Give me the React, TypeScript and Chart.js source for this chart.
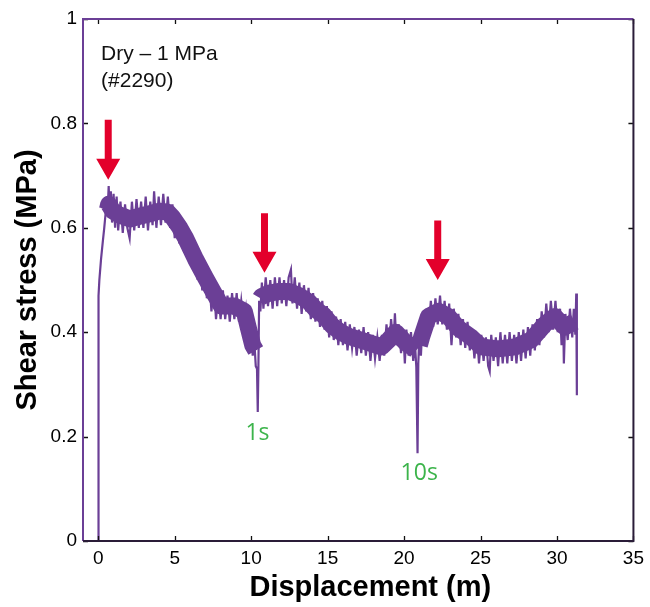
import React, { useEffect, useRef } from "react";
import { Chart, registerables } from "chart.js";
Chart.register(...registerables);

const xTicks = [0, 5, 10, 15, 20, 25, 30, 35];
const yTicks = [0, 0.2, 0.4, 0.6, 0.8, 1];

// thin noisy trace (displacement m, shear stress MPa)
const traceX = [0, 0, 0.03, 0.07, 0.18, 0.3, 0.39, 0.47, 0.55, 0.62, 0.68, 0.75, 0.82, 0.9, 1.0, 1.1, 1.2, 1.3, 1.45, 1.6, 1.75, 1.9, 2.05, 2.2, 2.35, 2.5, 2.65, 2.8, 2.95, 3.1, 3.25, 3.4, 3.55, 3.65, 3.8, 3.95, 4.1, 4.25, 4.4, 4.55, 4.7, 4.85, 5.0, 5.15, 5.3, 5.45, 5.6, 5.75, 5.9, 6.05, 6.2, 6.35, 6.5, 6.65, 6.8, 6.95, 7.1, 7.25, 7.4, 7.55, 7.7, 7.85, 8.0, 8.15, 8.3, 8.45, 8.6, 8.75, 8.9, 9.05, 9.2, 9.35, 9.5, 9.65, 9.8, 9.95, 10.1, 10.2, 10.3, 10.38, 10.43, 10.47, 10.52, 10.6, 10.7, 10.8, 10.95, 11.1, 11.25, 11.4, 11.55, 11.7, 11.85, 12.0, 12.15, 12.3, 12.45, 12.6, 12.7, 12.85, 13.0, 13.15, 13.3, 13.45, 13.6, 13.75, 13.9, 14.05, 14.2, 14.35, 14.5, 14.65, 14.8, 14.95, 15.1, 15.25, 15.4, 15.55, 15.7, 15.85, 16.0, 16.15, 16.3, 16.45, 16.6, 16.75, 16.9, 17.05, 17.2, 17.35, 17.5, 17.65, 17.8, 17.95, 18.1, 18.25, 18.4, 18.55, 18.7, 18.85, 19.0, 19.15, 19.3, 19.4, 19.5, 19.65, 19.8, 19.95, 20.05, 20.15, 20.3, 20.45, 20.6, 20.7, 20.8, 20.88, 20.93, 21.0, 21.1, 21.2, 21.3, 21.45, 21.6, 21.75, 21.9, 22.05, 22.2, 22.35, 22.5, 22.65, 22.8, 22.95, 23.1, 23.25, 23.4, 23.55, 23.7, 23.85, 24.0, 24.15, 24.3, 24.45, 24.6, 24.75, 24.9, 25.05, 25.2, 25.35, 25.5, 25.6, 25.7, 25.85, 26.0, 26.15, 26.3, 26.45, 26.6, 26.75, 26.9, 27.05, 27.2, 27.35, 27.5, 27.65, 27.8, 27.95, 28.1, 28.25, 28.4, 28.55, 28.7, 28.85, 29.0, 29.15, 29.3, 29.45, 29.6, 29.75, 29.9, 30.05, 30.2, 30.3, 30.4, 30.45, 30.55, 30.7, 30.85, 31.0, 31.1, 31.2, 31.26, 31.3];
const traceY = [0, 0.44, 0.47, 0.5, 0.54, 0.575, 0.6, 0.625, 0.66, 0.64, 0.68, 0.62, 0.67, 0.61, 0.665, 0.6, 0.66, 0.595, 0.65, 0.59, 0.645, 0.6, 0.58, 0.65, 0.595, 0.655, 0.6, 0.65, 0.6, 0.66, 0.595, 0.65, 0.605, 0.67, 0.6, 0.66, 0.605, 0.665, 0.61, 0.66, 0.6, 0.645, 0.58, 0.63, 0.57, 0.615, 0.555, 0.605, 0.54, 0.59, 0.52, 0.57, 0.5, 0.55, 0.48, 0.53, 0.465, 0.505, 0.44, 0.495, 0.425, 0.475, 0.425, 0.48, 0.425, 0.47, 0.42, 0.475, 0.425, 0.475, 0.42, 0.46, 0.415, 0.445, 0.385, 0.415, 0.355, 0.385, 0.335, 0.33, 0.247, 0.33, 0.46, 0.44, 0.495, 0.445, 0.505, 0.45, 0.5, 0.445, 0.505, 0.45, 0.505, 0.455, 0.5, 0.45, 0.505, 0.52, 0.455, 0.505, 0.445, 0.495, 0.435, 0.49, 0.44, 0.485, 0.425, 0.475, 0.42, 0.465, 0.41, 0.46, 0.405, 0.45, 0.39, 0.44, 0.385, 0.43, 0.375, 0.425, 0.375, 0.42, 0.365, 0.415, 0.37, 0.41, 0.355, 0.405, 0.36, 0.41, 0.355, 0.4, 0.345, 0.395, 0.35, 0.39, 0.345, 0.395, 0.355, 0.415, 0.365, 0.425, 0.375, 0.436, 0.375, 0.415, 0.36, 0.4, 0.34, 0.405, 0.355, 0.4, 0.345, 0.385, 0.333, 0.168, 0.34, 0.395, 0.355, 0.415, 0.385, 0.445, 0.405, 0.46, 0.41, 0.465, 0.415, 0.47, 0.415, 0.46, 0.405, 0.455, 0.375, 0.445, 0.39, 0.435, 0.375, 0.425, 0.37, 0.42, 0.365, 0.405, 0.35, 0.4, 0.34, 0.395, 0.345, 0.39, 0.335, 0.325, 0.395, 0.345, 0.39, 0.335, 0.4, 0.34, 0.395, 0.34, 0.4, 0.345, 0.395, 0.34, 0.4, 0.345, 0.405, 0.35, 0.41, 0.355, 0.415, 0.365, 0.425, 0.375, 0.44, 0.39, 0.455, 0.4, 0.46, 0.405, 0.46, 0.4, 0.445, 0.375, 0.435, 0.34, 0.435, 0.385, 0.445, 0.39, 0.445, 0.395, 0.474, 0.279];

// core of the noise band
const bandX = [0.6, 0.68, 0.96, 1.35, 2.06, 2.7, 3.37, 4.0, 4.54, 4.86, 5.33, 5.71, 6.36, 7.0, 7.66, 8.05, 8.9, 9.55, 9.8, 10.1, 10.3, 10.4, 10.6, 10.66, 11.18, 11.83, 12.48, 13.13, 13.78, 14.24, 14.76, 15.28, 15.86, 16.39, 17.49, 18.53, 18.99, 19.45, 20.1, 20.6, 20.78, 20.85, 21.0, 21.14, 21.59, 22.25, 22.9, 23.55, 24.4, 25.05, 26.15, 27.26, 28.3, 29.2, 29.86, 30.5, 31.15];
const bandY = [0.635, 0.645, 0.632, 0.625, 0.617, 0.622, 0.627, 0.632, 0.63, 0.62, 0.6, 0.58, 0.54, 0.505, 0.47, 0.45, 0.45, 0.44, 0.41, 0.375, 0.365, null, 0.465, 0.468, 0.475, 0.478, 0.478, 0.47, 0.458, 0.443, 0.432, 0.413, 0.4, 0.392, 0.382, 0.372, 0.385, 0.4, 0.38, 0.37, 0.365, null, 0.375, 0.39, 0.43, 0.44, 0.43, 0.408, 0.39, 0.372, 0.368, 0.372, 0.385, 0.415, 0.43, 0.41, 0.42];

const arrowX = [0.65, 10.87, 22.2];
const arrowTopY = [0.807, 0.628, 0.614];
const arrowTipY = [0.692, 0.514, 0.5];

const pauseLabels = ["1s", "10s"];
const pauseLabelX = [10.41, 20.99];
const pauseLabelY = [0.2065, 0.13];

const noteLines = ["Dry \u2013 1 MPa", "(#2290)"];
const noteX = 0.18;
const noteY = [0.922, 0.869];

const PURPLE = "#6b3f96";
const FONT = '"Liberation Sans", Arial, Helvetica, sans-serif';

const framePlugin = {
  id: "frame",
  afterDatasetsDraw(chart: any) {
    const { ctx, chartArea, scales } = chart;
    const { left, right, top, bottom } = chartArea;
    const xs = scales.x;
    const ys = scales.y;
    ctx.save();
    // inward ticks on all sides
    ctx.strokeStyle = "#111";
    ctx.lineWidth = 1.3;
    const tl = 5;
    ctx.beginPath();
    xTicks.forEach((v) => {
      const px = Math.round(xs.getPixelForValue(v)) + 0.5;
      ctx.moveTo(px, bottom);
      ctx.lineTo(px, bottom - tl);
      ctx.moveTo(px, top);
      ctx.lineTo(px, top + tl);
    });
    yTicks.forEach((v) => {
      const py = Math.round(ys.getPixelForValue(v)) + 0.5;
      ctx.moveTo(left, py);
      ctx.lineTo(left + tl, py);
      ctx.moveTo(right, py);
      ctx.lineTo(right - tl, py);
    });
    ctx.stroke();
    // frame
    ctx.lineWidth = 2;
    ctx.strokeStyle = PURPLE;
    ctx.beginPath();
    ctx.moveTo(left, bottom);
    ctx.lineTo(left, top);
    ctx.lineTo(right, top);
    ctx.stroke();
    ctx.strokeStyle = "#2a1c38";
    ctx.beginPath();
    ctx.moveTo(right, top);
    ctx.lineTo(right, bottom);
    ctx.lineTo(left, bottom);
    ctx.stroke();

    // arrows
    ctx.fillStyle = "#e3002b";
    arrowX.forEach((ax, i) => {
      const px = xs.getPixelForValue(ax);
      const pt = ys.getPixelForValue(arrowTopY[i]);
      const pb = ys.getPixelForValue(arrowTipY[i]);
      const headLen = 21;
      const shaftHalf = 3.5;
      const headHalf = 12;
      ctx.beginPath();
      ctx.moveTo(px - shaftHalf, pt);
      ctx.lineTo(px + shaftHalf, pt);
      ctx.lineTo(px + shaftHalf, pb - headLen);
      ctx.lineTo(px + headHalf, pb - headLen);
      ctx.lineTo(px, pb);
      ctx.lineTo(px - headHalf, pb - headLen);
      ctx.lineTo(px - shaftHalf, pb - headLen);
      ctx.closePath();
      ctx.fill();
    });

    // pause labels
    ctx.fillStyle = "#3cb44b";
    ctx.font = '23px "Open Sans", "Noto Sans", sans-serif';
    ctx.textAlign = "center";
    ctx.textBaseline = "middle";
    pauseLabels.forEach((t, i) => {
      ctx.fillText(t, xs.getPixelForValue(pauseLabelX[i]), ys.getPixelForValue(pauseLabelY[i]));
    });

    // note
    ctx.fillStyle = "#111";
    ctx.font = `21px ${FONT}`;
    ctx.textAlign = "left";
    ctx.textBaseline = "alphabetic";
    noteLines.forEach((t, i) => {
      ctx.fillText(t, xs.getPixelForValue(noteX), ys.getPixelForValue(noteY[i]));
    });
    ctx.restore();
  },
};

export default function App() {
  const ref = useRef<HTMLCanvasElement | null>(null);
  useEffect(() => {
    if (!ref.current) return;
    const trace = traceX.map((x, i) => ({ x, y: traceY[i] }));
    const band = bandX.map((x, i) => ({ x, y: bandY[i] }));
    const chart = new Chart(ref.current, {
      type: "line",
      data: {
        datasets: [
          {
            data: band as any,
            borderColor: PURPLE,
            borderWidth: 17,
            pointRadius: 0,
            tension: 0,
            spanGaps: false,
            borderJoinStyle: "round",
            borderCapStyle: "butt",
          },
          {
            data: trace as any,
            borderColor: PURPLE,
            borderWidth: 2.2,
            pointRadius: 0,
            tension: 0,
            borderJoinStyle: "miter",
          },
        ],
      },
      options: {
        animation: false,
        responsive: false,
        layout: { padding: { top: 19, right: 14, left: 0, bottom: 0 } },
        plugins: { legend: { display: false }, tooltip: { enabled: false } },
        scales: {
          x: {
            type: "linear",
            min: -1,
            max: 35,
            afterBuildTicks: (s: any) => {
              s.ticks = xTicks.map((v) => ({ value: v }));
            },
            afterFit: (s: any) => {
              s.height = 66;
            },
            grid: { display: false, drawTicks: false },
            border: { display: false },
            ticks: {
              color: "#000",
              font: { family: FONT, size: 19 },
              padding: 6,
              maxRotation: 0,
              autoSkip: false,
              callback: (v: any) => String(v),
            },
            title: {
              display: true,
              text: "   Displacement (m)",
              color: "#000",
              font: { family: FONT, size: 29, weight: "bold" },
              padding: { top: 0, bottom: 2 },
            },
          },
          y: {
            type: "linear",
            min: 0,
            max: 1,
            afterBuildTicks: (s: any) => {
              s.ticks = yTicks.map((v) => ({ value: v }));
            },
            afterFit: (s: any) => {
              s.width = 83;
            },
            grid: { display: false, drawTicks: false },
            border: { display: false },
            ticks: {
              color: "#000",
              font: { family: FONT, size: 19 },
              padding: 6,
              callback: (v: any) => String(v),
            },
            title: {
              display: true,
              text: "Shear stress (MPa)",
              color: "#000",
              font: { family: FONT, size: 29, weight: "bold" },
              padding: { top: 11, bottom: 0 },
            },
          },
        },
      },
      plugins: [framePlugin],
    });
    return () => chart.destroy();
  }, []);
  return (
    <div style={{ position: "fixed", left: 0, top: 0, width: 650, height: 607, background: "#fff" }}>
      <canvas ref={ref} width={650} height={607} />
    </div>
  );
}
